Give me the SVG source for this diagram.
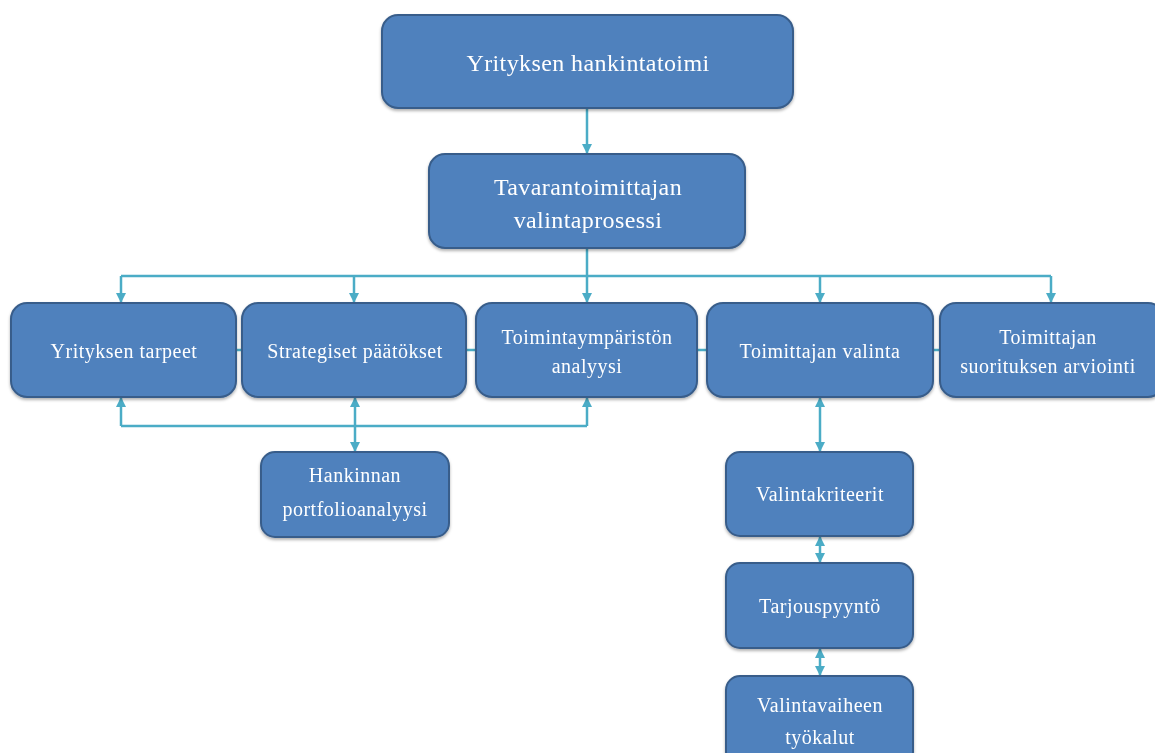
<svg xmlns="http://www.w3.org/2000/svg" width="1155" height="753" viewBox="0 0 1155 753">
<defs>
<style>
.box{fill:#4F81BD;stroke:#385D8A;stroke-width:2}
.t{fill:#fff;font-family:"Liberation Serif",serif;font-size:20px;letter-spacing:0.5px;text-anchor:middle}
.big{font-size:24px;letter-spacing:0.4px}
.c{fill:none;stroke:#4BACC6;stroke-width:2.5}
</style>
<marker id="ah" viewBox="0 0 10 10" refX="9" refY="5" markerWidth="4.2" markerHeight="4.2" orient="auto-start-reverse" markerUnits="strokeWidth">
<path d="M0,0 L10,5 L0,10 z" fill="#4BACC6"/>
</marker>
<filter id="sh" x="-10%" y="-10%" width="120%" height="130%">
<feDropShadow dx="0" dy="2" stdDeviation="1.5" flood-color="#000" flood-opacity="0.3"/>
</filter>
</defs>
<rect width="1155" height="753" fill="#fff"/>
<g id="connectors">
<path class="c" d="M587,108 V153" marker-end="url(#ah)"/>
<path class="c" d="M587,248 V276"/>
<path class="c" d="M121,276 H1051"/>
<path class="c" d="M121,276 V302" marker-end="url(#ah)"/>
<path class="c" d="M354,276 V302" marker-end="url(#ah)"/>
<path class="c" d="M587,276 V302" marker-end="url(#ah)"/>
<path class="c" d="M820,276 V302" marker-end="url(#ah)"/>
<path class="c" d="M1051,276 V302" marker-end="url(#ah)"/>
<path class="c" d="M236,350 H242"/>
<path class="c" d="M466,350 H476"/>
<path class="c" d="M697,350 H707"/>
<path class="c" d="M933,350 H940"/>
<path class="c" d="M121,426 H587"/>
<path class="c" d="M121,426 V398" marker-end="url(#ah)"/>
<path class="c" d="M587,426 V398" marker-end="url(#ah)"/>
<path class="c" d="M355,398 V451" marker-start="url(#ah)" marker-end="url(#ah)"/>
<path class="c" d="M820,398 V451" marker-start="url(#ah)" marker-end="url(#ah)"/>
<path class="c" d="M820,537 V562" marker-start="url(#ah)" marker-end="url(#ah)"/>
<path class="c" d="M820,649 V675" marker-start="url(#ah)" marker-end="url(#ah)"/>
</g>
<g id="n_top" filter="url(#sh)"><rect class="box" x="382" y="15" width="411" height="93" rx="16"/><text class="t big" x="588" y="71">Yrityksen hankintatoimi</text></g>
<g id="n_tav" filter="url(#sh)"><rect class="box" x="429" y="154" width="316" height="94" rx="16"/><text class="t big" x="588" y="195">Tavarantoimittajan</text><text class="t big" x="588" y="228">valintaprosessi</text></g>
<g id="n1" filter="url(#sh)"><rect class="box" x="11" y="303" width="225" height="94" rx="16"/><text class="t" x="124" y="358">Yrityksen tarpeet</text></g>
<g id="n2" filter="url(#sh)"><rect class="box" x="242" y="303" width="224" height="94" rx="16"/><text class="t" x="355" y="358">Strategiset päätökset</text></g>
<g id="n3" filter="url(#sh)"><rect class="box" x="476" y="303" width="221" height="94" rx="16"/><text class="t" x="587" y="344">Toimintaympäristön</text><text class="t" x="587" y="373">analyysi</text></g>
<g id="n4" filter="url(#sh)"><rect class="box" x="707" y="303" width="226" height="94" rx="16"/><text class="t" x="820" y="358">Toimittajan valinta</text></g>
<g id="n5" filter="url(#sh)"><rect class="box" x="940" y="303" width="224" height="94" rx="16"/><text class="t" x="1048" y="344">Toimittajan</text><text class="t" x="1048" y="373">suorituksen arviointi</text></g>
<g id="n6" filter="url(#sh)"><rect class="box" x="261" y="452" width="188" height="85" rx="14"/><text class="t" x="355" y="482">Hankinnan</text><text class="t" x="355" y="516">portfolioanalyysi</text></g>
<g id="n7" filter="url(#sh)"><rect class="box" x="726" y="452" width="187" height="84" rx="14"/><text class="t" x="820" y="501">Valintakriteerit</text></g>
<g id="n8" filter="url(#sh)"><rect class="box" x="726" y="563" width="187" height="85" rx="14"/><text class="t" x="820" y="613">Tarjouspyyntö</text></g>
<g id="n9" filter="url(#sh)"><rect class="box" x="726" y="676" width="187" height="90" rx="14"/><text class="t" x="820" y="712">Valintavaiheen</text><text class="t" x="820" y="744">työkalut</text></g>
</svg>
